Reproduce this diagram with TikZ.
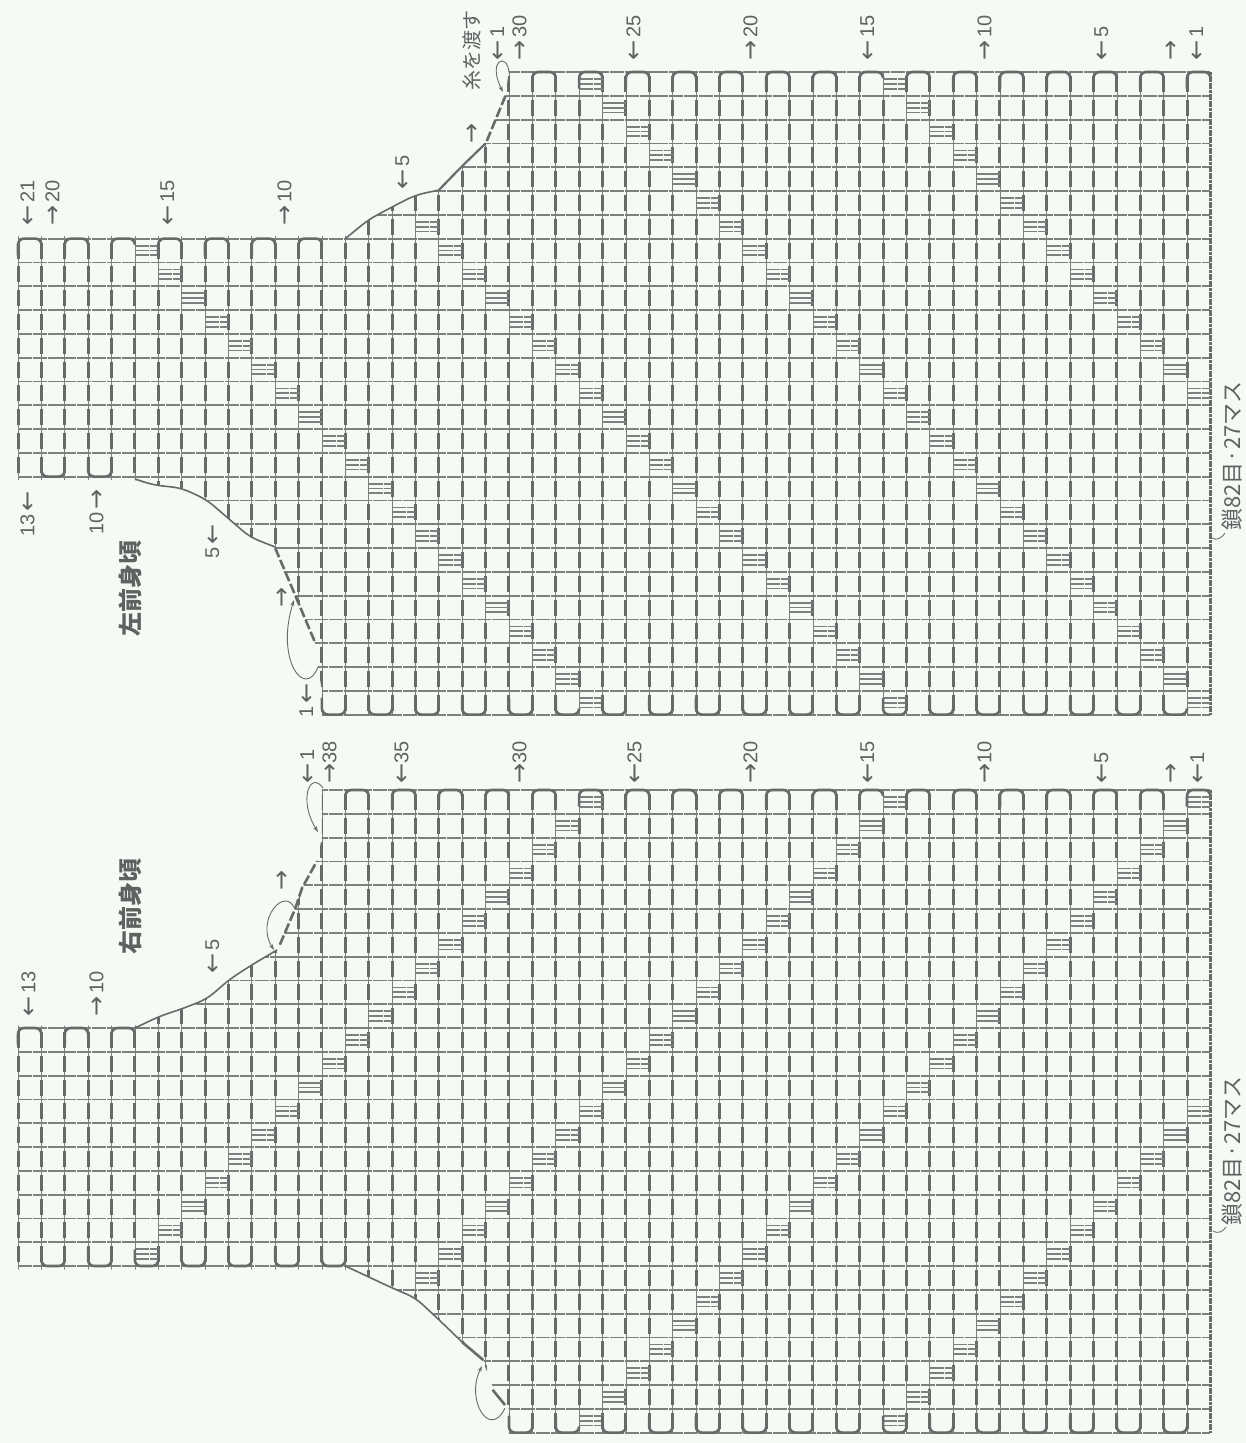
\documentclass[tikz,border=0pt]{standalone}
\usepackage{xcolor}
\usepackage{fontspec}
\setmainfont{Liberation Sans}
\newfontfamily\cjk{Noto Sans CJK JP}
\newfontfamily\arrowfont{DejaVu Sans}
\definecolor{paper}   {HTML}{F4FBF5}
\definecolor{postInk} {HTML}{666B69}
\definecolor{rowInk}  {HTML}{7C817F}
\definecolor{textInk} {HTML}{5E6361}
\usetikzlibrary{arrows.meta}
\tikzset{
    upperpiece/.style={shift={(18,72)}, x=23.38pt, y=-23.8pt},
    lowerpiece/.style={shift={(18,790)}, x=23.38pt, y=-23.8pt},
    posttick/.style={line width=.7pt, rowInk},
    postline/.style={line width=3pt, postInk, dash pattern=on 16pt off 7.8pt, dash phase=19.9pt},
    rowline/.style={line width=1.8pt, rowInk, dash pattern=on 14pt off .8pt},
    edgeline/.style={line width=3pt, postInk, dash pattern=on 3pt off .6pt},
    archline/.style={line width=2.6pt, postInk, rounded corners=6pt},
    neckline/.style={line width=1.6pt, postInk, rounded corners=9pt},
    neckdash/.style={line width=2.6pt, postInk, dash pattern=on 10pt off 3pt},
    yarnloop/.style={-{Stealth[length=6pt,width=4pt]}, line width=.9pt, postInk},
    leader/.style={line width=.8pt, postInk},
    rowmark/.style={rotate=90, anchor=west, inner sep=0pt, text=textInk,
                    font=\fontsize{20}{20}\selectfont},
    yarnnote/.style={rotate=90, inner sep=0pt, text=textInk,
                    font=\cjk\fontsize{20}{20}\selectfont},
    chainnote/.style={rotate=90, inner sep=0pt, text=textInk,
                    font=\cjk\fontsize{22}{22}\selectfont},
    piecename/.style={rotate=90, inner sep=0pt, text=textInk,
                    font=\cjk\bfseries\fontsize{24}{24}\selectfont},
}
\newcommand{\la}{\raisebox{-1.4pt}{\arrowfont\fontsize{24}{24}\selectfont ←}}
\newcommand{\ra}{\raisebox{-1.4pt}{\arrowfont\fontsize{24}{24}\selectfont →}}
\newcommand{\meshgrid}{%
    \foreach \i in {0,...,50} {
        \draw[posttick] (\i,0) -- (\i,27);
        \draw[postline] (\i,0) -- (\i,27);
    }
    \foreach \j in {0,...,27}
        \draw[rowline] (0,\j) -- (51,\j);
    \draw[edgeline] (51,0) -- (51,27);
}
\newcommand{\meshblock}[2]{%
    \fill[paper] (#1-.09,#2+.12) rectangle (#1+.09,#2+.88);
    \draw[posttick] (#1,#2) -- (#1,#2+1);
    \draw[rowline] (#1,#2+.3) -- (#1+1,#2+.3);
    \draw[rowline] (#1,#2+.5) -- (#1+1,#2+.5);
    \draw[rowline] (#1,#2+.7) -- (#1+1,#2+.7);
}
\newcommand{\toparch}[2]{\draw[archline] (#1,#2+.7) -- (#1,#2) -- (#1+1,#2) -- (#1+1,#2+.25);}
\newcommand{\botarch}[2]{\draw[archline] (#1,#2-.7) -- (#1,#2) -- (#1+1,#2) -- (#1+1,#2-.25);}

\begin{document}
\begin{tikzpicture}[x=1pt, y=-1pt]
    \fill[paper] (0,0) rectangle (1246,1443);
    \useasboundingbox (0,0) rectangle (1246,1443);

    % Left front piece
    \begin{scope}[upperpiece]
        \begin{scope}
            \clip (-.1,6.9) -- (14,6.9) -- (15,6.2) -- (16,5.67) -- (17,5.17) -- (18,4.96)
                -- (19,3.95) -- (20,3) -- (20.85,1) -- (21,-.1) -- (51.2,-.1) -- (51.2,27.15)
                -- (13,27.15) -- (13,26) -- (12.83,25) -- (12.7,23.95) -- (11.85,21.97)
                -- (11.33,20.92) -- (11,19.96) -- (9.92,19.54) -- (9.07,18.82) -- (8.08,17.98)
                -- (7,17.48) -- (5.77,17.35) -- (5,17.15) -- (-.1,17.15) -- cycle;
            \meshgrid
        \end{scope}
        \foreach \k in {0,...,19} {\meshblock{5+\k}{7+\k}}
        \foreach \k in {0,...,20} {\meshblock{17+\k}{6+\k}}
        \foreach \k in {0,...,26} {\meshblock{24+\k}{\k}}
        \foreach \k in {0,...,13} {\meshblock{37+\k}{\k}}
        \foreach \i in {0,2,...,12} {\toparch{\i}{7}}
        \foreach \i in {22,24,...,50} {\toparch{\i}{0}}
        \foreach \i in {1,3} {\botarch{\i}{17}}
        \foreach \i in {13,15,...,49} {\botarch{\i}{27}}
        % Neck and front edges
        \draw[neckline] (14,7) -- (15,6.2) -- (16,5.67) -- (17,5.17) -- (18,4.96);
        \draw[neckline, line width=2.2pt] (18,4.96) -- (19,3.95) -- (20,3);
        \draw[neckdash] (20.05,2.9) -- (20.85,1);
        \draw[neckline] (5,17.1) -- (5.77,17.35) -- (7,17.48) -- (8.08,17.98)
            -- (9.07,18.82) -- (9.92,19.54) -- (11,19.96);
        \draw[neckdash] (11,20) -- (11.85,21.97) -- (12.7,23.95);
    \end{scope}

    % Right front piece
    \begin{scope}[lowerpiece]
        \begin{scope}
            \clip (-.1,9.9) -- (5,9.9) -- (6.07,9.5) -- (7,9.2) -- (8.08,8.78) -- (9.07,7.94)
                -- (10,7.35) -- (11.08,6.72) -- (11.85,5) -- (12.15,4.12) -- (12.79,2.98)
                -- (13,2) -- (13,-.1) -- (51.2,-.1) -- (51.2,27.15) -- (21,27.15) -- (21,26)
                -- (20.83,25.84) -- (20.3,25.2) -- (19.9,23.95) -- (19,23.2) -- (18.05,22.3)
                -- (17,21.34) -- (16,20.92) -- (15,20.46) -- (14,20.15) -- (-.1,20.15) -- cycle;
            \meshgrid
        \end{scope}
        \foreach \k in {0,...,19} {\meshblock{24-\k}{\k}}
        \foreach \k in {0,...,20} {\meshblock{37-\k}{\k}}
        \foreach \k in {0,...,26} {\meshblock{50-\k}{\k}}
        \foreach \k in {0,...,13} {\meshblock{50-\k}{13+\k}}
        \foreach \i in {0,2,4} {\toparch{\i}{10}}
        \foreach \i in {14,16,...,50} {\toparch{\i}{0}}
        \foreach \i in {1,3,...,13} {\botarch{\i}{20}}
        \foreach \i in {21,23,...,49} {\botarch{\i}{27}}
        % Neck and front edges
        \draw[neckline] (5,10) -- (6.07,9.5) -- (7,9.2) -- (8.08,8.78)
            -- (9.07,7.94) -- (10,7.35) -- (11.08,6.72);
        \draw[neckdash] (11.2,6.5) -- (11.85,5) -- (12.15,4.12) -- (12.79,2.98);
        \draw[neckline] (14,20) -- (15,20.46) -- (16,20.92) -- (17,21.34)
            -- (18.05,22.3) -- (19,23.2);
        \draw[neckline, line width=2.6pt] (19,23.2) -- (19.9,23.95);
        \draw[neckline, line width=2.6pt] (20.3,25.2) -- (20.83,25.84);
    \end{scope}

    % Yarn carried across
    \draw[yarnloop] (509,72) .. controls (507,52) and (487,60) .. (503,92);
    \draw[yarnloop] (318,667) .. controls (305,700) and (275,660) .. (294,600);
    \draw[yarnloop] (323,788) .. controls (310,770) and (298,800) .. (318,832);
    \draw[yarnloop] (295,909) .. controls (285,885) and (255,920) .. (274,950);
    \draw[yarnloop] (505,1408) .. controls (490,1440) and (465,1400) .. (482,1366);

    % Row numbers
    \foreach \x/\t in {520/\ra\,30, 634/\la\,25, 751/\ra\,20, 868/\la\,15, 985/\ra\,10, 1102/\la\,5, 1172/\ra, 1197/\la\,1, 498/\la\,1}
        \node[rowmark] (topmark\x) at (\x,61) {\t};
    \foreach \x/\y/\t in {28/226/\la\,21, 53/226/\ra\,20, 168/226/\la\,15, 285/226/\ra\,10, 403/190/\la\,5, 473/144/\ra,
                          28/537/13\,\la, 97/535/10\,\ra, 213/559/5\,\la, 283/608/\ra, 307/718/1\,\la,
                          29/1017/\la\,13, 97/1017/\ra\,10, 213/974/\la\,5, 283/891/\ra}
        \node[rowmark] (neckmark\x) at (\x,\y) {\t};
    \foreach \x/\t in {308/\la\,1, 330/\ra 38, 402/\la 35, 520/\ra 30, 635/\la 25, 751/\ra 20, 868/\la 15, 985/\ra 10, 1102/\la 5, 1172/\ra, 1198/\la 1}
        \node[rowmark] (lowmark\x) at (\x,784) {\t};

    % Notes
    \node[yarnnote] (yarn) at (472,50) {糸を渡す};
    \node[piecename] (leftname) at (130,588) {左前身頃};
    \node[piecename] (rightname) at (130,906) {右前身頃};
    \node[chainnote] (chainup) at (1232,456) {鎖82目·27マス};
    \node[chainnote] (chainlow) at (1232,1151) {鎖82目·27マス};
    \draw[leader] (1212,538) .. controls (1216,541) and (1222,538) .. (1225,533);
    \draw[leader] (1213,1231) .. controls (1217,1234) and (1223,1232) .. (1226,1227);
\end{tikzpicture}
\end{document}
